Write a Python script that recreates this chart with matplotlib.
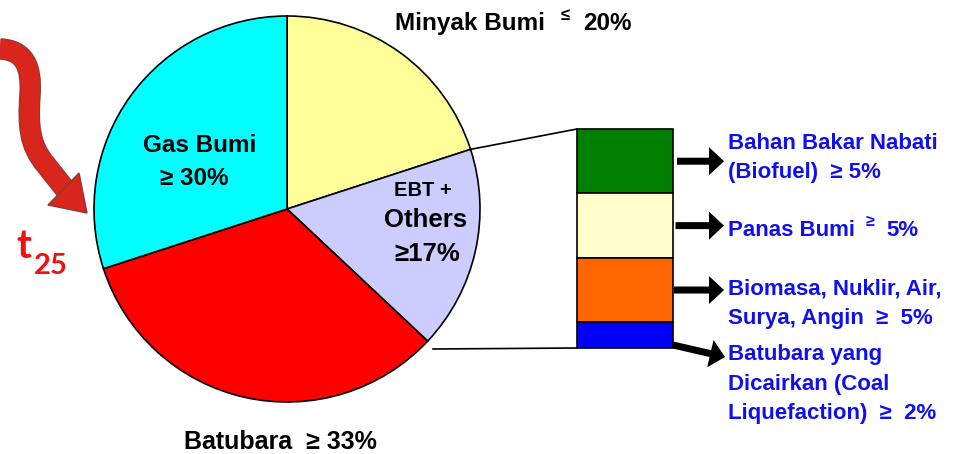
import matplotlib
matplotlib.use("Agg")
import matplotlib.pyplot as plt
from matplotlib.path import Path
from matplotlib.patches import PathPatch, Polygon
import matplotlib.patheffects as pe
import numpy as np

# ---- data ----
pie_labels = ["Minyak Bumi", "EBT + Others", "Batubara", "Gas Bumi"]
pie_share = [20, 17, 33, 30]
pie_colors = ["#FFFF99", "#CCCCFF", "#FF0000", "#00FFFF"]

ebt_labels = ["Bahan Bakar Nabati (Biofuel)", "Panas Bumi",
              "Biomasa, Nuklir, Air, Surya, Angin", "Batubara yang Dicairkan (Coal Liquefaction)"]
ebt_share = [5, 5, 5, 2]
ebt_colors = ["#008000", "#FFFFCC", "#FF6600", "#0000FF"]

W, H = 959, 454
def Y(y):
    return H - y

FONT = "Liberation Sans"
BLUE = "#1010EE"

fig = plt.figure(figsize=(W / 100, H / 100), dpi=100)
ax = fig.add_axes([0, 0, 1, 1])

# ---- pie ----
cx, cy, R = 287, Y(209), 193
wedges, _ = ax.pie(pie_share, colors=pie_colors, startangle=90, counterclock=False,
                   center=(cx, cy), radius=R, frame=False,
                   wedgeprops=dict(edgecolor="black", linewidth=1.2))

# ---- stacked bar for EBT ----
bx, bw = 625, 96
bar_bottom = Y(348)
scale = 219 / sum(ebt_share)
bottoms = []
b = bar_bottom
for v in ebt_share[::-1]:
    bottoms.append(b)
    b += v * scale
bottoms = bottoms[::-1]
for v, bt, c in zip(ebt_share, bottoms, ebt_colors):
    ax.bar(bx, v * scale, bottom=bt, width=bw, color=c, edgecolor="black", linewidth=1.2)

bar_top = bar_bottom + sum(ebt_share) * scale

# connector lines
t2 = np.deg2rad(wedges[1].theta2)
ax.plot([cx + R * np.cos(t2), bx - bw / 2], [cy + R * np.sin(t2), bar_top],
        color="black", lw=1.2)
ax.plot([433, bx - bw / 2], [Y(349), bar_bottom], color="black", lw=1.2)

# black arrows
for v, bt, i in zip(ebt_share[:3], bottoms[:3], range(3)):
    yc = bt + v * scale / 2
    x0 = bx + bw / 2 + 4 - i * 1.5
    ax.arrow(x0, yc, 724 - x0, 0, width=7, head_width=28, head_length=15,
             length_includes_head=True, color="black", lw=0)
ax.arrow(bx + bw / 2, Y(345), 52, -12, width=7, head_width=28, head_length=15,
         length_includes_head=True, color="black", lw=0)

# ---- pie labels ----
kw = dict(family=FONT, fontweight="bold", color="black")
ax.text(395, Y(30), "Minyak Bumi", fontsize=17.5, ha="left", va="baseline", **kw)
ax.text(561, Y(20), "≤", fontsize=12, ha="left", va="baseline", **kw)
ax.text(583, Y(30), "20%", fontsize=17.5, ha="left", va="baseline", **kw)
ax.text(200, Y(152), "Gas Bumi", fontsize=17.5, ha="center", va="baseline", **kw)
ax.text(194, Y(185), "≥ 30%", fontsize=17.5, ha="center", va="baseline", **kw)
ax.text(423, Y(196), "EBT +", fontsize=14.5, ha="center", va="baseline", **kw)
ax.text(426, Y(227), "Others", fontsize=18.5, ha="center", va="baseline", **kw)
ax.text(427, Y(261), "≥17%", fontsize=18.5, ha="center", va="baseline", **kw)
ax.text(280, Y(449), "Batubara  ≥ 33%", fontsize=18, ha="center", va="baseline", **kw)

# ---- blue labels ----
bkw = dict(family=FONT, fontweight="bold", color=BLUE, fontsize=16, ha="left", va="baseline")
ax.text(728, Y(149), "Bahan Bakar Nabati", **bkw)
ax.text(728, Y(178), "(Biofuel)  ≥ 5%", **bkw)
ax.text(728, Y(236), "Panas Bumi", **bkw)
ax.text(866, Y(226), "≥", family=FONT, fontweight="bold", color=BLUE, fontsize=11.5,
        ha="left", va="baseline")
ax.text(886, Y(236), "5%", **bkw)
ax.text(728, Y(295), "Biomasa, Nuklir, Air,", **bkw)
ax.text(728, Y(324), "Surya, Angin  ≥  5%", **bkw)
ax.text(728, Y(360), "Batubara yang", **bkw)
ax.text(728, Y(390), "Dicairkan (Coal", **bkw)
ax.text(728, Y(419), "Liquefaction)  ≥  2%", **bkw)

# ---- red curved arrow and t25 ----
RED = "#D9261C"
verts = [(0, Y(49)), (24, Y(50)), (32, Y(66)), (30, Y(95)),
         (28, Y(125)), (29, Y(145)), (46, Y(165)), (65, Y(189))]
codes = [Path.MOVETO, Path.CURVE4, Path.CURVE4, Path.CURVE4,
         Path.CURVE4, Path.CURVE4, Path.CURVE4, Path.LINETO]
shaft = PathPatch(Path(verts, codes), fill=False, edgecolor=RED, lw=14, capstyle="butt",
                  path_effects=[pe.Stroke(linewidth=15.5, foreground="#8a3a34"), pe.Normal()])
ax.add_patch(shaft)
head = Polygon([(48, Y(205)), (79, Y(173)), (87, Y(213))], closed=True,
               facecolor=RED, edgecolor="#8a3a34", lw=1)
ax.add_patch(head)

ax.text(16, Y(258), "t", family="Lato", fontweight="bold", fontsize=29, color="#F01010",
        ha="left", va="baseline")
ax.text(34, Y(274), "25", family="Lato", fontweight="bold", fontsize=21, color="#F01010",
        ha="left", va="baseline")

ax.set_xlim(0, W)
ax.set_ylim(0, H)
ax.set_aspect("equal")
ax.axis("off")
fig.savefig("out.png", dpi=100, facecolor="white")
